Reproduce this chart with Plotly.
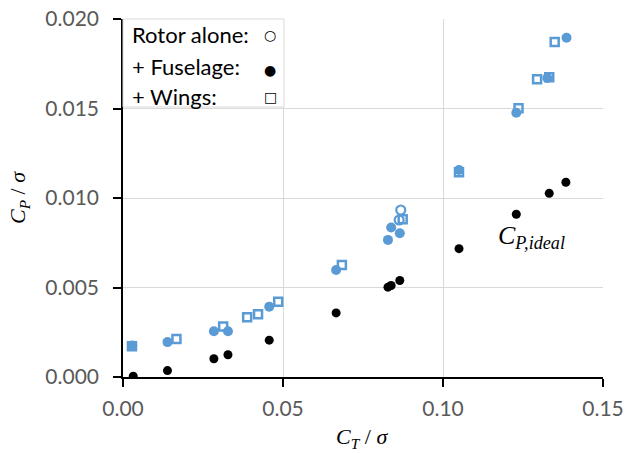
import plotly.graph_objects as go

# Rotor + fuselage + wings (blue open squares)
wings_ct = [0.0028, 0.0167, 0.0313, 0.0388, 0.0422, 0.0485, 0.0684, 0.0874, 0.1050, 0.1236, 0.1294, 0.1332, 0.1349]
wings_cp = [0.00172, 0.00212, 0.00282, 0.00334, 0.00351, 0.00420, 0.00626, 0.00881, 0.01144, 0.01501, 0.01663, 0.01675, 0.01872]

# Rotor + fuselage (blue filled circles)
fus_ct = [0.0029, 0.0139, 0.0284, 0.0328, 0.0457, 0.0666, 0.0828, 0.0838, 0.0865, 0.1050, 0.1229, 0.1326, 0.1386]
fus_cp = [0.00176, 0.00195, 0.00256, 0.00256, 0.00392, 0.00598, 0.00766, 0.00835, 0.00803, 0.01156, 0.01476, 0.01670, 0.01895]

# Rotor alone (blue open circles)
alone_ct = [0.0863, 0.0868]
alone_cp = [0.00877, 0.00933]

# Ideal power (black filled circles)
ideal_ct = [0.0032, 0.0139, 0.0284, 0.0328, 0.0457, 0.0666, 0.0828, 0.0838, 0.0865, 0.1050, 0.1229, 0.1332, 0.1384]
ideal_cp = [0.00004, 0.00036, 0.00102, 0.00124, 0.00206, 0.00358, 0.00502, 0.00511, 0.00539, 0.00717, 0.00909, 0.01026, 0.01088]

x_ticks = [0.0, 0.05, 0.10, 0.15]
y_ticks = [0.0, 0.005, 0.010, 0.015, 0.020]

BLUE = "#5B9BD5"
GRAY = "#595959"
TXT_FONT = "Lato, Open Sans, sans-serif"
SERIF = "Liberation Serif, DejaVu Serif, serif"

L, R, T, B = 123, 24, 19, 76
W, H = 627, 453
PW, PH = W - L - R, H - T - B


def px(xp):
    return (xp - L) / PW


def py(yp):
    return (H - B - yp) / PH


fig = go.Figure()
fig.add_trace(go.Scatter(x=ideal_ct, y=ideal_cp, mode="markers",
                         marker=dict(symbol="circle", size=9, color="black"),
                         showlegend=False))
fig.add_trace(go.Scatter(x=alone_ct, y=alone_cp, mode="markers",
                         marker=dict(symbol="circle-open", size=9, color=BLUE,
                                     line=dict(width=2.2, color=BLUE)),
                         showlegend=False))
fig.add_trace(go.Scatter(x=wings_ct, y=wings_cp, mode="markers",
                         marker=dict(symbol="square-open", size=8, color=BLUE,
                                     line=dict(width=2.5, color=BLUE)),
                         showlegend=False))
fig.add_trace(go.Scatter(x=fus_ct, y=fus_cp, mode="markers",
                         marker=dict(symbol="circle", size=10, color=BLUE),
                         showlegend=False))

# legend box
fig.add_shape(type="rect", xref="paper", yref="paper",
              x0=0.0, x1=px(284), y0=py(107), y1=1.0,
              fillcolor="white", line=dict(color="#d9d9d9", width=1), layer="above")

legend_rows = [("Rotor alone:", "○", 35, 35), ("+ Fuselage:", "●", 67, 70), ("+ Wings:", "□", 96, 97)]
for label, sym, ty, sy in legend_rows:
    fig.add_annotation(xref="paper", yref="paper", x=px(130), y=py(ty),
                       text=label, showarrow=False, xanchor="left", yanchor="middle",
                       font=dict(family=TXT_FONT, size=22, color="black"))
    fig.add_annotation(xref="paper", yref="paper", x=px(270), y=py(sy),
                       text=sym, showarrow=False, xanchor="center", yanchor="middle",
                       font=dict(family="DejaVu Sans", size=14, color="black"))

fig.add_annotation(x=0.1278, y=0.0078, text="<i>C</i><sub><i>P,ideal</i></sub>",
                   showarrow=False, font=dict(family=SERIF, size=26, color="black"))

# axis titles
fig.add_annotation(xref="paper", yref="paper", x=px(362), y=py(438),
                   text="<i>C</i><sub><i>T</i></sub> / <i>σ</i>", showarrow=False,
                   xanchor="center", yanchor="middle",
                   font=dict(family=SERIF, size=22, color="black"))
fig.add_annotation(xref="paper", yref="paper", x=px(19), y=py(198),
                   text="<i>C</i><sub><i>P</i></sub> / <i>σ</i>", showarrow=False,
                   textangle=-90, xanchor="center", yanchor="middle",
                   font=dict(family=SERIF, size=22, color="black"))

fig.update_layout(
    width=W, height=H,
    margin=dict(l=L, r=R, t=T, b=B),
    plot_bgcolor="white", paper_bgcolor="white",
    xaxis=dict(range=[0, 0.15], tickvals=x_ticks, tickformat=".2f",
               showgrid=True, gridcolor="#d9d9d9", gridwidth=1, automargin=False,
               zeroline=False, showline=True, linecolor="black", linewidth=1.5,
               ticks="outside", ticklen=8, tickcolor="black", tickwidth=1.5,
               ticklabelstandoff=4,
               tickfont=dict(family=TXT_FONT, size=21, color=GRAY)),
    yaxis=dict(range=[0, 0.020], tickvals=y_ticks, tickformat=".3f",
               showgrid=True, gridcolor="#d9d9d9", gridwidth=1, automargin=False,
               zeroline=False, showline=True, linecolor="black", linewidth=1.5,
               ticks="outside", ticklen=8, tickcolor="black", tickwidth=1.5,
               ticklabelstandoff=10,
               tickfont=dict(family=TXT_FONT, size=21, color=GRAY)),
)

fig.write_html("out.html")
